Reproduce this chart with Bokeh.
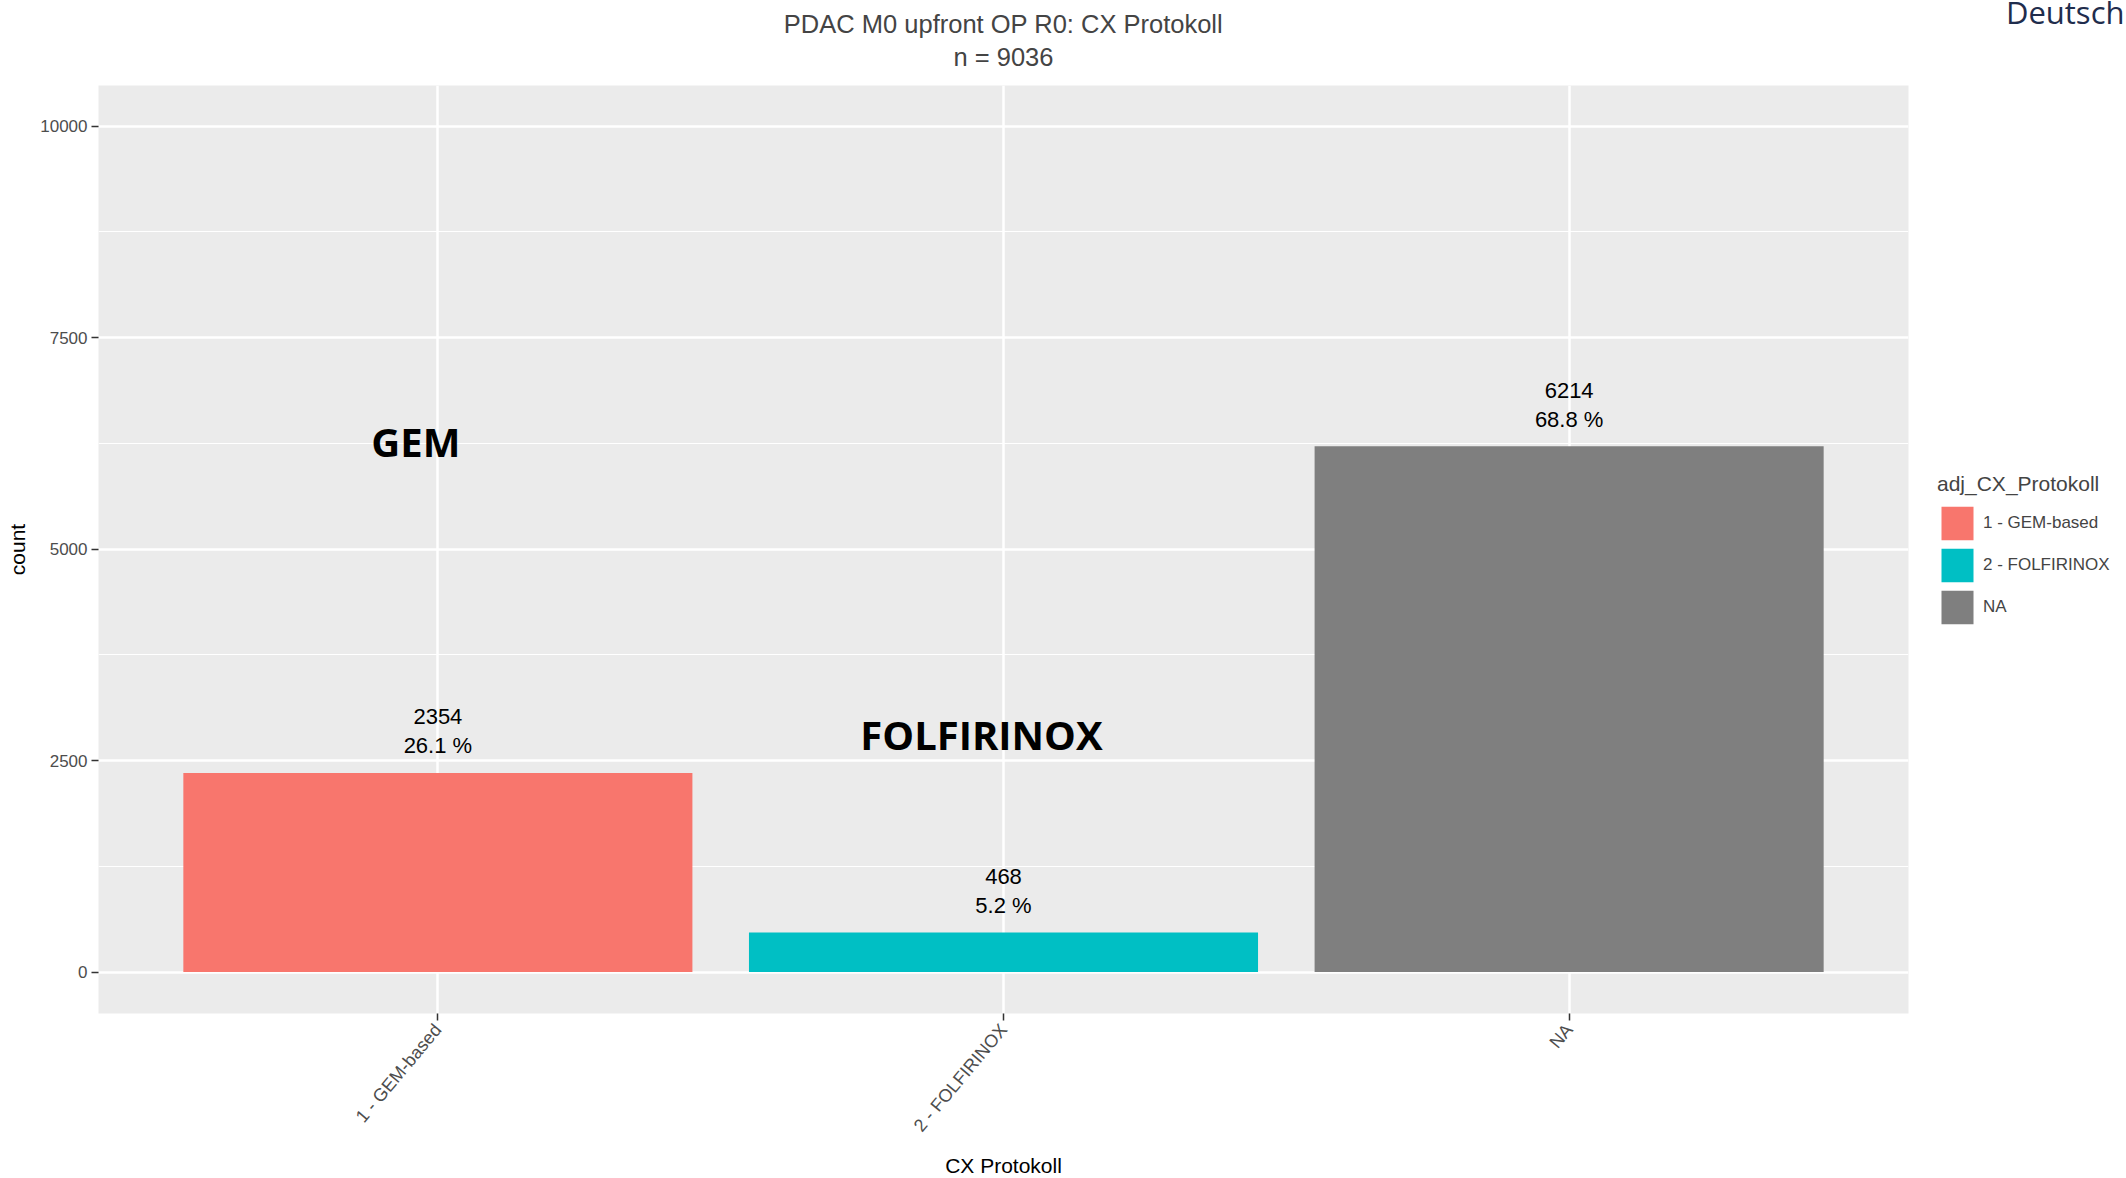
import math
from bokeh.plotting import figure
from bokeh.models import (ColumnDataSource, FactorRange, Range1d, FixedTicker, Legend,
                          LegendItem, Title)
from bokeh.core.properties import value
from bokeh.embed import file_html
from bokeh.resources import INLINE

# ---- data ----
categories = ["1 - GEM-based", "2 - FOLFIRINOX", "NA"]
counts = [2354, 468, 6214]
count_labels = ["2354", "468", "6214"]
pct_labels = ["26.1 %", "5.2 %", "68.8 %"]
bar_colors = ["#F8766D", "#00BFC4", "#7F7F7F"]
y_ticks = [0, 2500, 5000, 7500, 10000]
y_minor = [1250, 3750, 6250, 8750]
annot_text = ["GEM", "FOLFIRINOX"]
annot_cat = ["1 - GEM-based", "2 - FOLFIRINOX"]
annot_y = [6271, 2807]
title_lines = ["PDAC M0 upfront OP R0: CX Protokoll", "n = 9036"]
corner_text = "Deutsch"

FONT = "Liberation Sans"

W, H = 2126, 1178
FL, FR, FT, FB = 98, 1908, 85, 1013   # frame edges (page px)

src = ColumnDataSource(dict(cat=categories, count=counts, clbl=count_labels,
                            pct=pct_labels, color=bar_colors))

p = figure(width=W, height=H, frame_width=FR - FL, frame_height=FB - FT,
           output_backend="svg", toolbar_location=None,
           x_range=FactorRange(*categories, range_padding=0.2 / 3),
           y_range=Range1d(-490, 10479),
           min_border_left=FL, min_border_right=W - FR, min_border_top=FT,
           min_border_bottom=H - FB)

p.background_fill_color = "#EBEBEB"
p.border_fill_color = "white"
p.outline_line_color = None

bars = p.vbar(x="cat", top="count", bottom=0, width=0.9, fill_color="color",
              line_color=None, source=src)

# labels above bars
p.text(x="cat", y="count", text="clbl", y_offset=-56, text_align="center",
       text_baseline="middle", text_font=value(FONT), text_font_size="22px",
       text_color="black", source=src)
p.text(x="cat", y="count", text="pct", y_offset=-27, text_align="center",
       text_baseline="middle", text_font=value(FONT), text_font_size="22px",
       text_color="black", source=src)

# overlaid bold annotations
p.text(x=annot_cat, y=annot_y, text=annot_text, x_offset=-22, text_align="center",
       text_baseline="middle", text_font=value("Open Sans"), text_font_style="bold",
       text_font_size="40px", text_color="black")

# axes
p.yaxis.ticker = FixedTicker(ticks=y_ticks, minor_ticks=y_minor)
for ax in (p.xaxis[0], p.yaxis[0]):
    ax.axis_line_color = None
    ax.major_tick_out = 7
    ax.major_tick_in = 0
    ax.major_tick_line_color = "#333333"
    ax.major_tick_line_width = 1.5
    ax.minor_tick_line_color = None
    ax.major_label_text_color = "#4D4D4D"
    ax.major_label_text_font = FONT
    ax.major_label_text_font_size = "17px"
    ax.axis_label_text_font = FONT
    ax.axis_label_text_font_size = "21px"
    ax.axis_label_text_font_style = "normal"
    ax.axis_label_text_color = "black"

p.yaxis.axis_label = "count"
p.yaxis.major_label_standoff = 4
p.yaxis.axis_label_standoff = 8
p.xaxis.axis_label = "CX Protokoll"
p.xaxis.major_label_orientation = math.radians(50)
p.xaxis.major_label_text_font_size = "18px"
p.xaxis.major_label_standoff = 6
p.xaxis.axis_label_standoff = 9

# grids
p.ygrid.grid_line_color = "white"
p.ygrid.grid_line_width = 2.5
p.ygrid.minor_grid_line_color = "white"
p.ygrid.minor_grid_line_width = 1.2
p.xgrid.grid_line_color = "white"
p.xgrid.grid_line_width = 2.5

# legend (right side panel)
items = [LegendItem(label=c, renderers=[bars], index=i) for i, c in enumerate(categories)]
legend = Legend(items=items, title="adj_CX_Protokoll", location=(29, 385),
                title_text_font=FONT, title_text_font_size="21px", title_text_font_style="normal",
                title_standoff=6, label_text_font=FONT, label_text_font_size="17px",
                label_standoff=6, glyph_width=40, glyph_height=42, spacing=0,
                padding=0, margin=0, border_line_color=None, background_fill_alpha=0)
p.add_layout(legend, "right")

# titles (innermost first)
p.add_layout(Title(text=title_lines[1], align="center", text_font=FONT, text_font_size="25.5px",
                   text_font_style="normal", standoff=30), "above")
p.add_layout(Title(text=title_lines[0], align="center", text_font=FONT, text_font_size="25.5px",
                   text_font_style="normal", standoff=-25), "above")
p.add_layout(Title(text=corner_text, align="right", offset=FR - (W - 2), text_font="Open Sans",
                   text_font_size="31px", text_font_style="normal", text_color="#1F2D4D",
                   standoff=-25), "above")

open("out.html", "w").write(file_html(p, INLINE))
